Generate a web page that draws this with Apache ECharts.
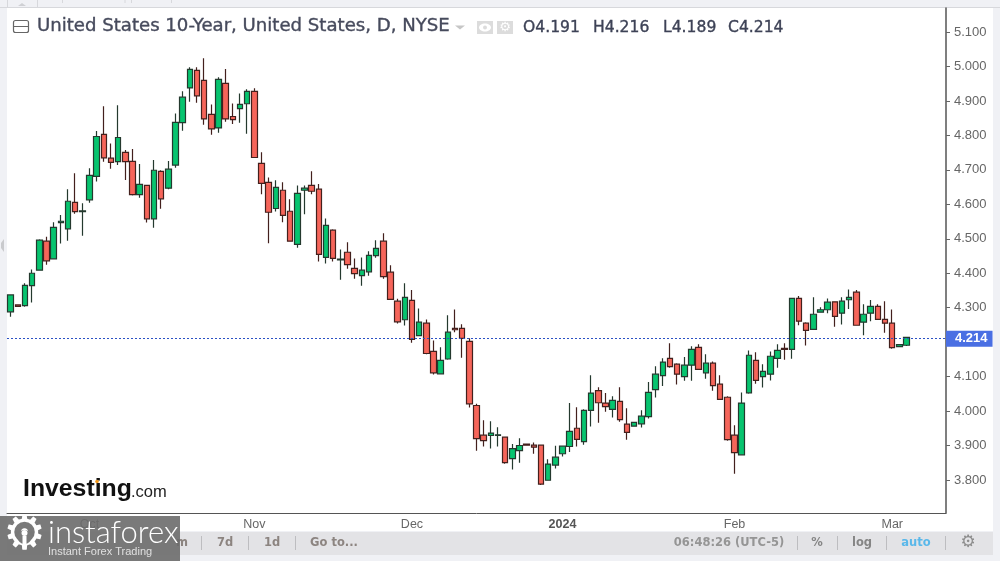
<!DOCTYPE html>
<html><head><meta charset="utf-8">
<script src="https://cdn.jsdelivr.net/npm/echarts@6/dist/echarts.min.js"></script>
<style>html,body{margin:0;padding:0;background:#f0f1f5}#c{width:1000px;height:561px}</style>
</head><body><div id="c"></div>
<script>
const opens=[4.288,4.308,4.306,4.364,4.409,4.493,4.442,4.547,4.529,4.606,
4.579,4.613,4.681,4.803,4.734,4.724,4.751,4.725,4.628,4.655,
4.558,4.696,4.647,4.714,4.837,4.938,4.989,4.960,4.861,4.822,
4.951,4.855,4.878,4.892,4.928,4.719,4.664,4.588,4.641,4.580,
4.484,4.641,4.655,4.644,4.446,4.525,4.439,4.461,4.414,4.393,
4.404,4.451,4.493,4.403,4.319,4.265,4.321,4.219,4.255,4.173,
4.108,4.151,4.240,4.240,4.202,4.016,3.930,3.929,3.929,3.924,
3.862,3.885,3.904,3.901,3.901,3.799,3.843,3.876,3.897,3.950,
3.911,4.002,4.059,4.023,4.005,4.028,3.962,3.956,3.963,3.984,
4.062,4.103,4.153,4.136,4.100,4.133,4.185,4.111,4.139,4.078,
4.040,3.930,3.873,4.053,4.147,4.100,4.107,4.153,4.182,4.179,
4.327,4.255,4.237,4.287,4.294,4.317,4.284,4.323,4.345,4.258,
4.284,4.304,4.266,4.255,4.187,4.191];
const closes=[4.337,4.304,4.365,4.400,4.496,4.436,4.533,4.551,4.609,4.579,
4.581,4.684,4.797,4.735,4.722,4.794,4.724,4.628,4.658,4.558,
4.699,4.616,4.702,4.838,4.911,4.992,4.915,4.848,4.819,4.963,
4.848,4.846,4.890,4.928,4.736,4.661,4.577,4.649,4.568,4.493,
4.632,4.647,4.638,4.455,4.539,4.443,4.441,4.425,4.399,4.409,
4.452,4.472,4.390,4.324,4.259,4.330,4.208,4.258,4.167,4.111,
4.147,4.229,4.236,4.211,4.021,3.920,3.914,3.936,3.931,3.850,
3.891,3.900,3.901,3.895,3.788,3.846,3.866,3.898,3.941,3.918,
4.002,4.052,4.024,4.013,4.031,3.975,3.938,3.967,3.985,4.054,
4.107,4.142,4.129,4.107,4.133,4.179,4.121,4.139,4.074,4.034,
3.917,3.879,4.023,4.162,4.089,4.115,4.159,4.176,4.179,4.327,
4.261,4.234,4.281,4.294,4.316,4.275,4.319,4.330,4.249,4.281,
4.304,4.266,4.255,4.184,4.193,4.214];
const lows=[4.274,4.303,4.303,4.315,4.407,4.425,4.440,4.486,4.494,4.573,
4.509,4.605,4.666,4.724,4.703,4.714,4.671,4.626,4.619,4.547,
4.532,4.587,4.644,4.706,4.814,4.898,4.895,4.831,4.802,4.808,
4.840,4.833,4.837,4.805,4.736,4.629,4.487,4.579,4.548,4.493,
4.474,4.571,4.629,4.434,4.428,4.434,4.381,4.413,4.384,4.364,
4.393,4.445,4.384,4.324,4.254,4.248,4.198,4.219,4.165,4.106,
4.106,4.149,4.229,4.155,4.010,3.885,3.897,3.891,3.897,3.847,
3.830,3.850,3.899,3.876,3.785,3.799,3.833,3.868,3.881,3.897,
3.902,3.955,3.966,3.998,3.981,3.969,3.917,3.956,3.952,3.978,
4.039,4.073,4.126,4.077,4.088,4.088,4.121,4.094,4.059,4.034,
3.914,3.818,3.873,4.050,4.079,4.068,4.089,4.126,4.149,4.152,
4.249,4.190,4.237,4.287,4.284,4.245,4.251,4.296,4.249,4.220,
4.261,4.266,4.227,4.181,4.185,4.189];
const highs=[4.339,4.309,4.371,4.411,4.499,4.506,4.548,4.569,4.644,4.690,
4.603,4.705,4.813,4.885,4.777,4.888,4.758,4.761,4.717,4.656,
4.729,4.699,4.726,4.864,4.928,4.998,4.998,5.024,4.890,4.969,
4.993,4.893,4.922,4.934,4.937,4.751,4.678,4.670,4.664,4.615,
4.655,4.655,4.696,4.659,4.559,4.528,4.469,4.490,4.443,4.446,
4.464,4.496,4.516,4.423,4.326,4.371,4.351,4.298,4.266,4.205,
4.185,4.278,4.295,4.252,4.211,4.021,3.973,3.970,3.953,3.924,
3.904,3.921,3.905,3.909,3.902,3.860,3.899,3.898,4.023,4.011,
4.005,4.104,4.069,4.052,4.043,4.069,4.008,3.967,4.002,4.084,
4.130,4.153,4.197,4.139,4.157,4.188,4.194,4.165,4.144,4.104,
4.043,3.959,4.054,4.176,4.171,4.136,4.173,4.194,4.197,4.327,
4.334,4.258,4.330,4.301,4.327,4.317,4.330,4.353,4.351,4.310,
4.322,4.310,4.319,4.295,4.193,4.216];
const monthLabels=['Oct','Nov','Dec','2024','Feb','Mar'];
const monthStarts=[11,34,56,77,101,123];
const blankBands=5;
const priceTicks=[3.8,3.9,4.0,4.1,4.2,4.3,4.4,4.5,4.6,4.7,4.8,4.9,5.0,5.1];
const lastPrice=4.214;
const titleText='United States 10-Year, United States, D, NYSE';
const ohlcText=[['O4.191',523],['H4.216',593],['L4.189',663],['C4.214',728]];
const toolLeft=[['7d',225],['1d',272],['Go to...',334]];
const toolRight=[['06:48:26 (UTC-5)',729,'#959595'],['%',817,'#858585'],['log',862,'#858585'],['auto',916,'#5ab8ea']];
const toolSeps=[201,248,295,797,837,886,945];

const categories=[];
for(let i=0;i<opens.length+blankBands;i++){const m=monthStarts.indexOf(i);categories.push(m>=0?monthLabels[m]:'d'+i);}
const candles=opens.map((o,i)=>[o,closes[i],lows[i],highs[i]]);
const isTick=i=>monthStarts.indexOf(i)>=0;
const FONT='"Liberation Sans",Arial,sans-serif';
const rect=(x,y,w,h,fill,z,extra)=>Object.assign({type:'rect',shape:{x,y,width:w,height:h},style:{fill},z:z,silent:true},extra||{});
const txt=(t,x,y,font,fill,align,z,stroke)=>({type:'text',x:x,y:y,z:z||5,silent:true,style:{text:t,font:font,fill:fill,textAlign:align||'left',textVerticalAlign:'middle',stroke:stroke||null,lineWidth:stroke?0.35:0}});
const line=(x1,y1,x2,y2,c,z)=>({type:'line',shape:{x1,y1,x2,y2},style:{stroke:c,lineWidth:1},z:z||5,silent:true});

const graphics=[
 rect(7,8,986,523,'#ffffff',-5),
 line(0,7.5,1000,7.5,'#d7d8dc',-4),
 line(37.5,0,37.5,7,'#d7d8dc',-4),line(7.5,0,7.5,7,'#d7d8dc',-4),
 line(62.5,0,62.5,3,'#d7d8dc',-4),line(125,0,125,3,'#d7d8dc',-4),line(131.5,0,131.5,3,'#d7d8dc',-4),line(171.5,0,171.5,3,'#d7d8dc',-4),
 {type:'polygon',shape:{points:[[18,6],[26,6],[22,3]]},style:{fill:'#cfd0d4'},z:-4,silent:true},
 {type:'polygon',shape:{points:[[4,239],[4,252],[1,248],[1,243]]},style:{fill:'#c9cacd'},z:-4,silent:true},
 rect(7,532,986,23,'#e3e3e6',-4),
 {type:'rect',shape:{x:13.5,y:20.5,width:15,height:12,r:2},style:{fill:'none',stroke:'#666',lineWidth:1.2},z:5,silent:true},
 line(14,26.5,28,26.5,'#666'),
 Object.assign(txt(titleText,37,27,'17px "DejaVu Sans",sans-serif','#464a5c','left',5,'#464a5c'),{scaleX:1.065}),
 {type:'polygon',shape:{points:[[455,25.5],[465,25.5],[460,29.5]]},style:{fill:'#c6c6c6'},z:5,silent:true},
 rect(477,21,16,13,'#dcdcdc',5),rect(497,21,16,13,'#dcdcdc',5),
 {type:'ellipse',shape:{cx:485,cy:27.5,rx:6,ry:4},style:{fill:'#fff'},z:6,silent:true},
 {type:'circle',shape:{cx:485,cy:27.5,r:2},style:{fill:'#dcdcdc'},z:7,silent:true},
 txt('\u2699',505,27.5,'13px "DejaVu Sans"','#ffffff','center',6),
 txt('Investing',23,489.5,'bold 24.8px '+FONT,'#111111'),
 txt('.com',131,492,'16.5px '+FONT,'#222222'),
 {type:'circle',shape:{cx:97,cy:481.5,r:1.8},style:{fill:'#f59a1c'},z:7,silent:true},
 txt('\u2699',968,543,'17px "DejaVu Sans"','#8d8d8d','center'),
 rect(0,516,180,45,'rgba(108,108,108,0.9)',20),
 txt('\u2699',24.5,537,'48px "DejaVu Sans"','#ffffff','center',21),
 {type:'circle',shape:{cx:24.5,cy:537,r:7},style:{fill:'#7a7a7a'},z:22,silent:true},
 {type:'circle',shape:{cx:24.5,cy:533,r:3},style:{fill:'#ffffff'},z:23,silent:true},
 rect(22.5,536,4,13,'#ffffff',23),
 txt('instaforex',48,533,'300 31px Lato,sans-serif','#ffffff','left',21),
 txt('Instant Forex Trading',48,552,'11px '+FONT,'#e0e0e0','left',21)
];
ohlcText.forEach(o=>graphics.push(txt(o[0],o[1],27.5,'15.6px "DejaVu Sans",sans-serif','#3d4256','left',5,'#3d4256')));
toolLeft.forEach(o=>graphics.push(txt(o[0],o[1],543,'bold 11.5px "DejaVu Sans",sans-serif','#8c8480','center')));
toolRight.forEach(o=>graphics.push(txt(o[0],o[1],543,'bold 11.5px "DejaVu Sans",sans-serif',o[2],'center')));
toolSeps.forEach(x=>graphics.push(line(x+.5,536,x+.5,550,'#bdbdc0')));
graphics.push(txt('m',182,543,'bold 11.5px "DejaVu Sans",sans-serif','#8c8480','center',6));

const chart=echarts.init(document.getElementById('c'),null,{renderer:'canvas'});
chart.setOption({
 animation:false,
 backgroundColor:'transparent',
 grid:{left:7,right:54,top:8,bottom:48},
 xAxis:{type:'category',data:categories,boundaryGap:true,
  axisLine:{lineStyle:{color:'#555',width:1}},
  axisTick:{alignWithLabel:true,length:3,interval:i=>isTick(i),lineStyle:{color:'#555'}},
  axisLabel:{interval:i=>isTick(i),margin:5,color:'#666',fontFamily:FONT,fontSize:12.5,
   formatter:v=>v==='2024'?'{b|2024}':v,rich:{b:{fontWeight:'bold',color:'#555',fontFamily:FONT,fontSize:12.5}}},
  splitLine:{show:false}},
 yAxis:{type:'value',position:'right',min:3.704,max:5.170,
  axisLine:{show:true,lineStyle:{color:'#555',width:1.5}},
  axisTick:{show:true,length:4,customValues:priceTicks,lineStyle:{color:'#666'}},
  axisLabel:{customValues:priceTicks,margin:8,color:'#666',fontFamily:FONT,fontSize:13,padding:[2,0,0,0],formatter:v=>v.toFixed(3)},
  splitLine:{show:false}},
 graphic:graphics,
 series:[{type:'candlestick',data:candles,barWidth:6,clip:false,
  itemStyle:{color:'#07c46f',color0:'#f6655a',borderColor:'#24392e',borderColor0:'#43201d',borderWidth:1.2},
  markLine:{silent:true,symbol:'none',animation:false,
   lineStyle:{color:'#2a50c4',type:[2,2],width:1},
   label:{show:true,position:'end',distance:0,formatter:()=>lastPrice.toFixed(3),color:'#fff',fontWeight:'bold',fontFamily:FONT,fontSize:13,backgroundColor:'#4a6fe3',padding:[2,5,2,9],lineHeight:12},
   data:[{yAxis:lastPrice}]}}]
});
</script></body></html>
